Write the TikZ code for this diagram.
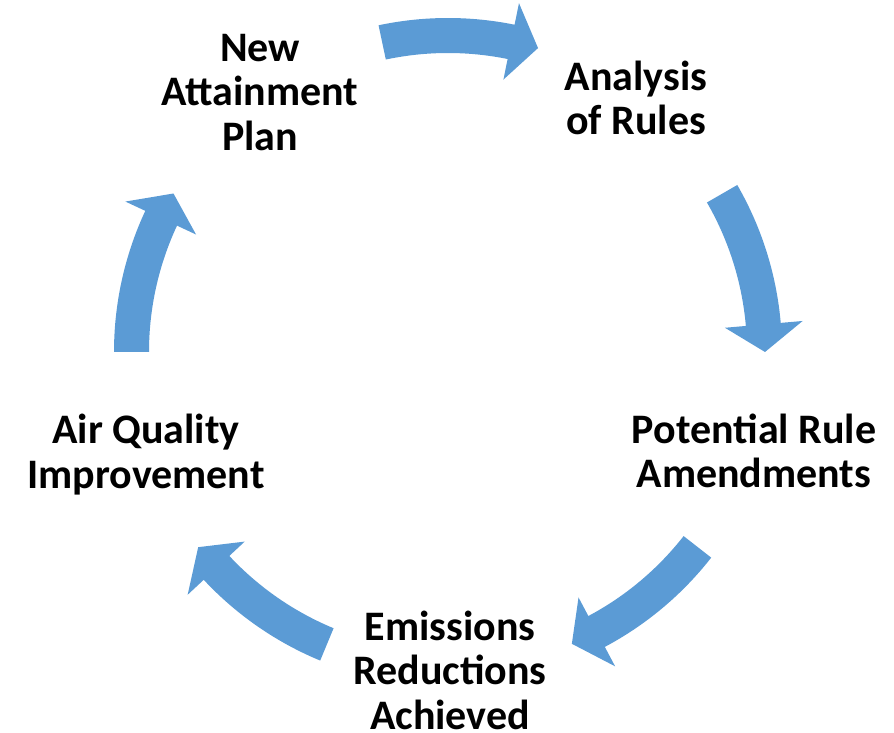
\documentclass[tikz,border=0pt]{standalone}
\usepackage{fontspec}
\setmainfont{Carlito}
\definecolor{arrowblue}{HTML}{5B9BD5}
\newcommand\circarrow[2]{%
  \pgfmathsetmacro\hb{#2+5}%
  \fill[arrowblue, shift={(448,380)}]
    (#1:334) arc[start angle=#1, end angle=\hb, radius=334]
    -- (\hb:356) -- (#2:317) -- (\hb:278) -- (\hb:299)
    arc[start angle=\hb, end angle=#1, radius=299] -- cycle;}
\begin{document}
\begin{tikzpicture}[x=1pt,y=1pt,
  lbl/.style={font=\fontsize{42}{44.5}\selectfont\bfseries, align=center, inner sep=0pt, text=black}]
\useasboundingbox (0,0) rectangle (894,732);
\coordinate (c) at (448,380);
\circarrow{102}{73.5}
\circarrow{30}{0}
\circarrow{-38}{-67}
\circarrow{-112.5}{-142}
\circarrow{180}{150}
\node[lbl] (plan) at (260,639.5) {New\\Attainment\\Plan};
\node[lbl] (analysis) at (636,634) {Analysis\\of Rules};
\node[lbl] (potential) at (754,281) {Potential Rule\\Amendments};
\node[lbl] (emissions) at (450,62) {Emissions\\Reductions\\Achieved};
\node[lbl] (air) at (146,277.5) {Air Quality\\Improvement};
\end{tikzpicture}
\end{document}
